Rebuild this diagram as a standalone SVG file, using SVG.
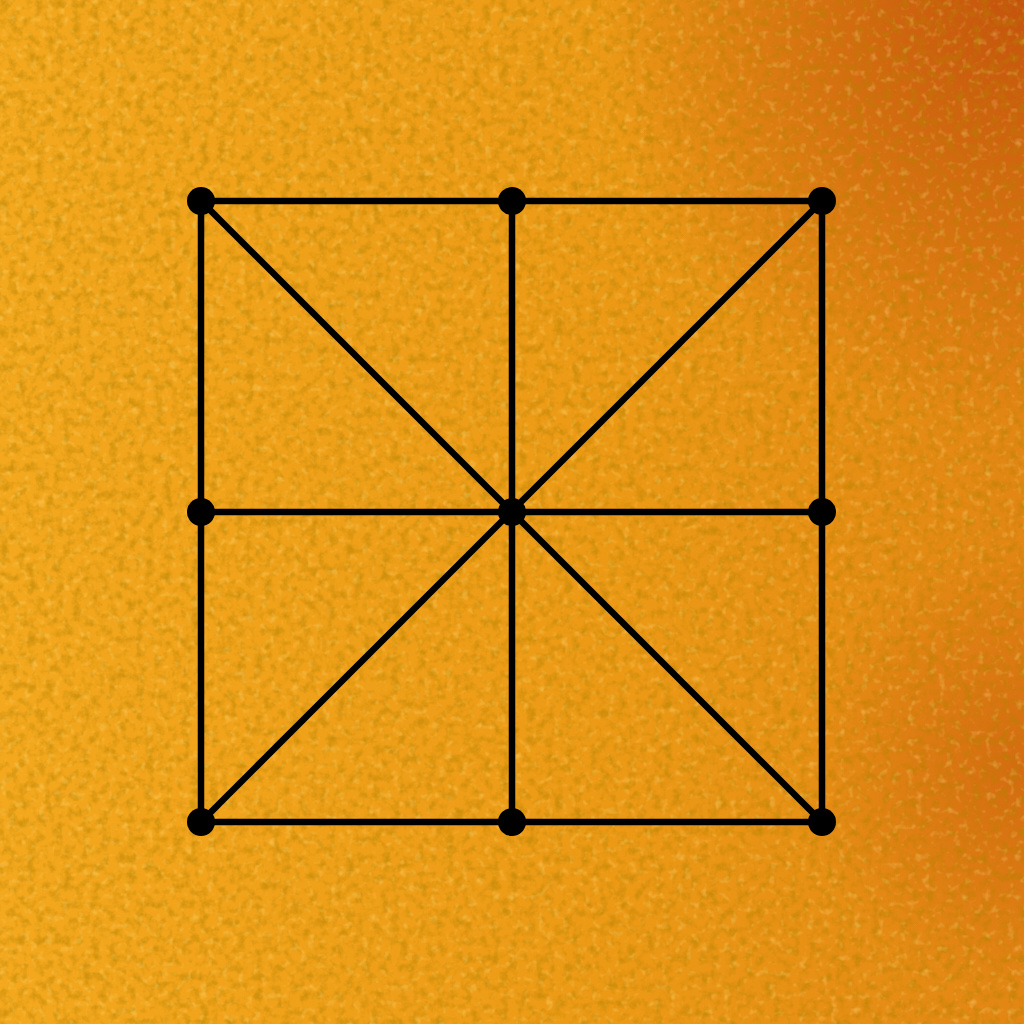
<svg xmlns="http://www.w3.org/2000/svg" width="1024" height="1024" viewBox="0 0 1024 1024">
<defs>
<linearGradient id="bg" x1="0" y1="0.5" x2="1" y2="0.5">
<stop offset="0" stop-color="#f3a81e"/>
<stop offset="0.6" stop-color="#ec9a16"/>
<stop offset="1" stop-color="#e28614"/>
</linearGradient>
<radialGradient id="tr" cx="1" cy="0" r="0.42">
<stop offset="0" stop-color="#c04a0c" stop-opacity="0.85"/>
<stop offset="1" stop-color="#c04a0c" stop-opacity="0"/>
</radialGradient>
<radialGradient id="br" cx="1" cy="0.75" r="0.22">
<stop offset="0" stop-color="#c8560e" stop-opacity="0.55"/>
<stop offset="1" stop-color="#c8560e" stop-opacity="0"/>
</radialGradient>
<filter id="tex" x="0" y="0" width="100%" height="100%">
<feTurbulence type="fractalNoise" baseFrequency="0.11" numOctaves="3" seed="4" result="n"/>
<feColorMatrix in="n" type="matrix" values="0 0 0 0 0.45  0 0 0 0 0.22  0 0 0 0 0  0 0 0 -2.6 1.45" result="dark"/>
<feComposite in="dark" in2="SourceGraphic" operator="in"/>
</filter>
<filter id="tex2" x="0" y="0" width="100%" height="100%">
<feTurbulence type="fractalNoise" baseFrequency="0.13" numOctaves="2" seed="11" result="n"/>
<feColorMatrix in="n" type="matrix" values="0 0 0 0 1  0 0 0 0 0.85  0 0 0 0 0.3  0 0 0 2.6 -1.45" result="lt"/>
<feComposite in="lt" in2="SourceGraphic" operator="in"/>
</filter>
<style>
.e{stroke:#000;stroke-width:6.5;stroke-linecap:round;fill:none}
.n{fill:#000}
</style>
</defs>
<rect width="1024" height="1024" fill="url(#bg)"/>
<rect width="1024" height="1024" fill="url(#tr)"/>
<rect width="1024" height="1024" fill="url(#br)"/>
<rect width="1024" height="1024" fill="#000" filter="url(#tex)" opacity="0.5"/>
<rect width="1024" height="1024" fill="#000" filter="url(#tex2)" opacity="0.35"/>
<g id="connectors">
<line class="e" x1="201" y1="201" x2="822" y2="201"/>
<line class="e" x1="201" y1="512" x2="822" y2="512"/>
<line class="e" x1="201" y1="822" x2="822" y2="822"/>
<line class="e" x1="201" y1="201" x2="201" y2="822"/>
<line class="e" x1="512" y1="201" x2="512" y2="822"/>
<line class="e" x1="822" y1="201" x2="822" y2="822"/>
<line class="e" x1="201" y1="201" x2="822" y2="822"/>
<line class="e" x1="822" y1="201" x2="201" y2="822"/>
</g>
<g id="n1"><circle class="n" cx="201" cy="201" r="14"/></g>
<g id="n2"><circle class="n" cx="512" cy="201" r="14"/></g>
<g id="n3"><circle class="n" cx="822" cy="201" r="14"/></g>
<g id="n4"><circle class="n" cx="201" cy="512" r="14"/></g>
<g id="n5"><circle class="n" cx="512" cy="512" r="14"/></g>
<g id="n6"><circle class="n" cx="822" cy="512" r="14"/></g>
<g id="n7"><circle class="n" cx="201" cy="822" r="14"/></g>
<g id="n8"><circle class="n" cx="512" cy="822" r="14"/></g>
<g id="n9"><circle class="n" cx="822" cy="822" r="14"/></g>
</svg>
